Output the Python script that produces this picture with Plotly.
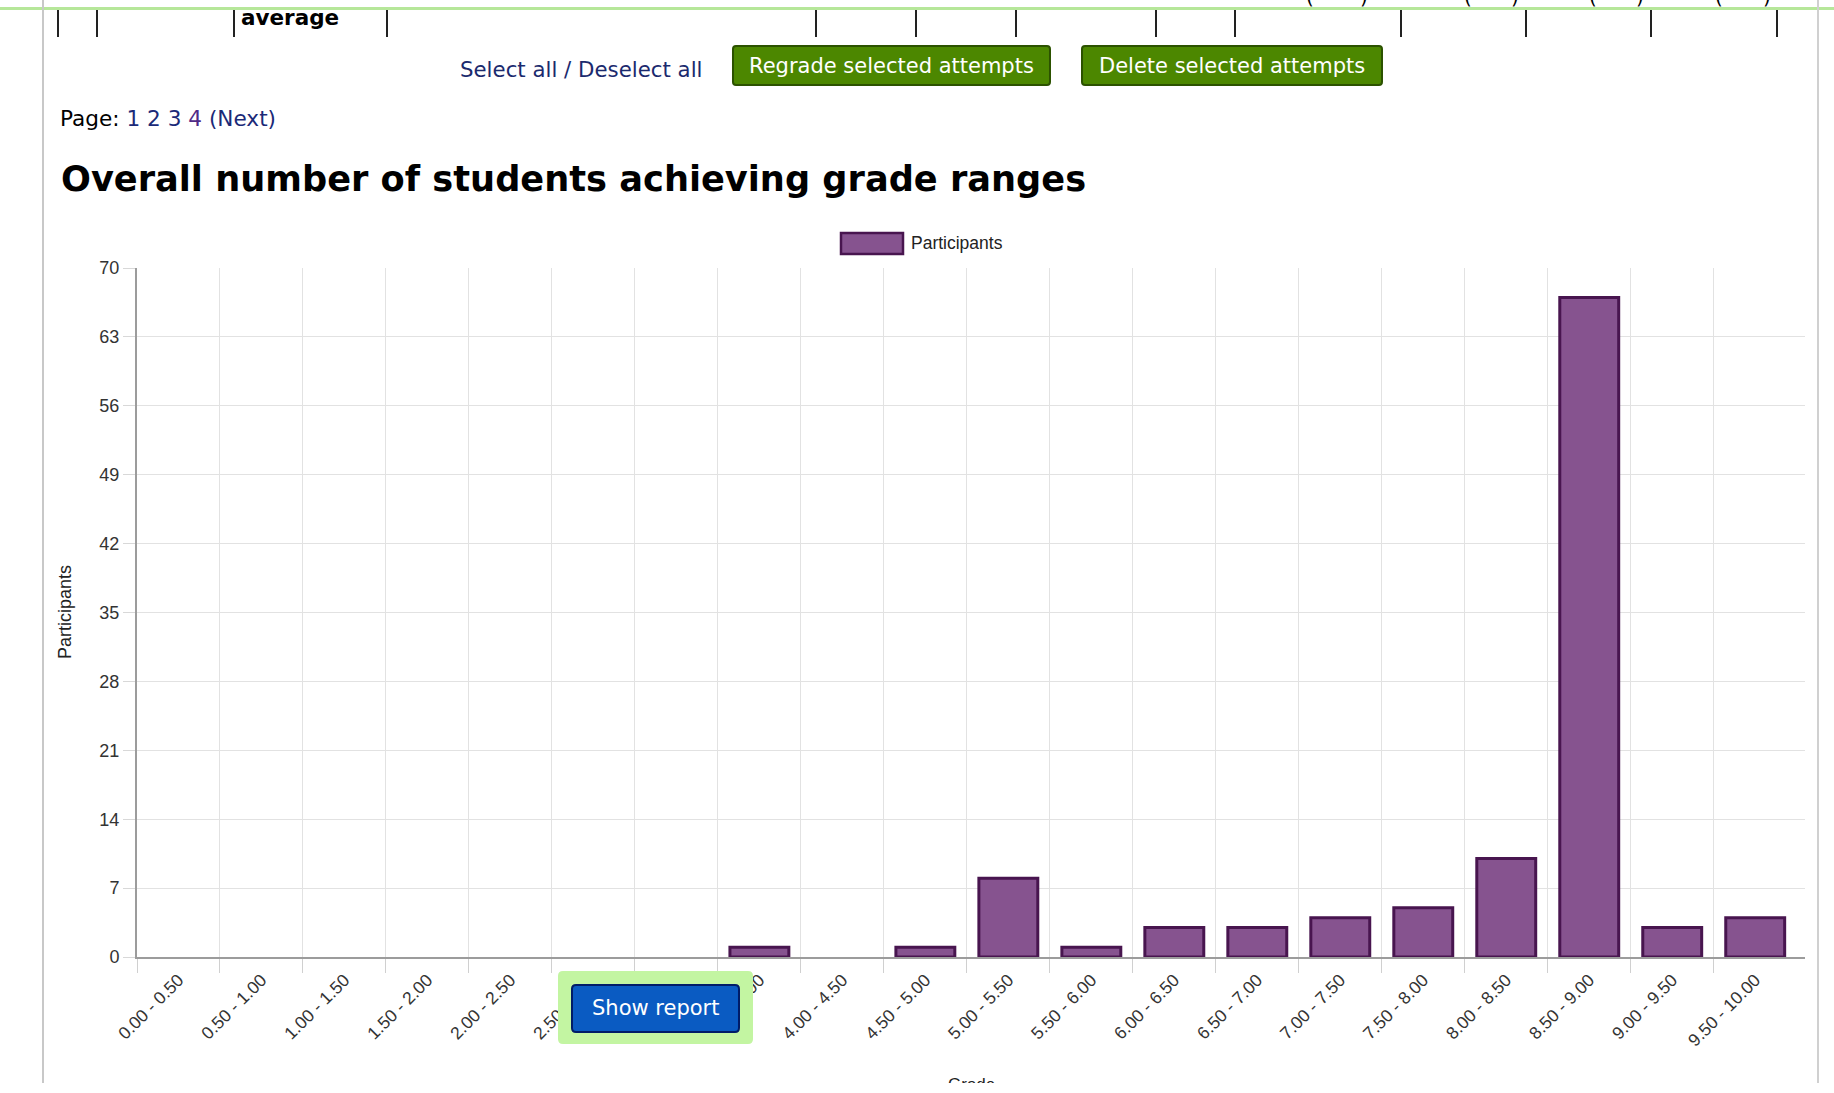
import plotly.graph_objects as go

# ---- data -------------------------------------------------------------
grade_ranges = [
    "0.00 - 0.50", "0.50 - 1.00", "1.00 - 1.50", "1.50 - 2.00", "2.00 - 2.50",
    "2.50 - 3.00", "3.00 - 3.50", "3.50 - 4.00", "4.00 - 4.50", "4.50 - 5.00",
    "5.00 - 5.50", "5.50 - 6.00", "6.00 - 6.50", "6.50 - 7.00", "7.00 - 7.50",
    "7.50 - 8.00", "8.00 - 8.50", "8.50 - 9.00", "9.00 - 9.50", "9.50 - 10.00",
]
participants = [0, 0, 0, 0, 0, 0, 0, 1, 0, 1, 8, 1, 3, 3, 4, 5, 10, 67, 3, 4]
y_ticks = [0, 7, 14, 21, 28, 35, 42, 49, 56, 63, 70]

# ---- page geometry (pixels) ------------------------------------------
W, H = 1834, 1083
PL, PR, PT, PB = 137, 1805, 268, 957          # plot area edges

def px(x):
    return (x - PL) / (PR - PL)

def py(y):
    return (PB - y) / (PB - PT)

def rrect(x0, y0, x1, y1, r):
    pts = [("M", x0 + r, y0), ("L", x1 - r, y0), ("Q", x1, y0), ("", x1, y0 + r),
           ("L", x1, y1 - r), ("Q", x1, y1), ("", x1 - r, y1), ("L", x0 + r, y1),
           ("Q", x0, y1), ("", x0, y1 - r), ("L", x0, y0 + r), ("Q", x0, y0),
           ("", x0 + r, y0)]
    return " ".join(f"{c}{px(a):.5f},{py(b):.5f}" if c else f"{px(a):.5f},{py(b):.5f}"
                    for c, a, b in pts) + " Z"

BAR_FILL = "#86538f"
BAR_EDGE = "#48154f"
PAGE_FONT = "DejaVu Sans"
CHART_FONT = "Liberation Sans, Arial, sans-serif"

fig = go.Figure()
fig.add_trace(go.Bar(
    x=list(range(len(grade_ranges))),
    y=participants,
    name="Participants",
    marker=dict(color=BAR_FILL,
                line=dict(color=BAR_EDGE,
                          width=[3 if v > 0 else 0 for v in participants])),
    showlegend=False,
))

shapes = []
annotations = []

def line(x0, y0, x1, y1, color, width):
    shapes.append(dict(type="line", xref="paper", yref="paper",
                       x0=px(x0), y0=py(y0), x1=px(x1), y1=py(y1),
                       line=dict(color=color, width=width)))

def rect(x0, y0, x1, y1, fill, edge, width):
    shapes.append(dict(type="rect", xref="paper", yref="paper",
                       x0=px(x0), y0=py(y0), x1=px(x1), y1=py(y1),
                       fillcolor=fill, line=dict(color=edge, width=width)))

def text(s, x, y, size, color="#000000", family=PAGE_FONT, xanchor="left",
         yanchor="middle", angle=0):
    annotations.append(dict(text=s, xref="paper", yref="paper", x=px(x), y=py(y),
                            xanchor=xanchor, yanchor=yanchor, showarrow=False,
                            textangle=angle,
                            font=dict(family=family, size=size, color=color)))

# page frame
line(0, 8.5, W, 8.5, "#b6e79a", 3)
line(43, 0, 43, 1083, "#c8c8c8", 2)
line(1818, 0, 1818, 1083, "#d0d0d0", 2)

# bottom edge of the attempts table above
for x in [58, 97, 234, 387, 816, 916, 1016, 1156, 1235, 1401, 1526, 1651, 1777]:
    line(x, 10, x, 37, "#222222", 2)
for x, ch in [(1310, "("), (1364, ")"), (1468, "("), (1515, ")"),
              (1593, "("), (1640, ")"), (1719, "("), (1767, ")")]:
    text(ch, x, 11, 20, xanchor="center", yanchor="bottom")
text("<b>average</b>", 239, 18, 21.5)

# selection controls
text("Select all / Deselect all", 458, 70, 21.3, color="#1b2a6e")
for (x0, x1, label) in [(733, 1050, "Regrade selected attempts"),
                        (1082, 1382, "Delete selected attempts")]:
    shapes.append(dict(type="path", xref="paper", yref="paper",
                       path=rrect(x0, 46, x1, 85, 3), fillcolor="#4c8700",
                       line=dict(color="#2c5200", width=2)))
    text(label, (x0 + x1) / 2, 66, 21, color="#ffffff", xanchor="center")

text("Page: <span style='color:#1b2a78'>1 2 3</span> "
     "<span style='color:#4f2a86'>4</span> "
     "<span style='color:#1b2a78'>(Next)</span>", 58, 118, 21.6)

text("<b>Overall number of students achieving grade ranges</b>", 59, 179, 35.2)

# legend
rect(841, 233, 903, 254, BAR_FILL, BAR_EDGE, 2.5)
text("Participants", 909, 243, 17.5, color="#222222", family=CHART_FONT)

# axis titles
text("Participants", 65, 612, 18, color="#222222", family=CHART_FONT,
     xanchor="center", angle=-90)
text("Grade", 971, 1073, 17, color="#222222", family=CHART_FONT,
     xanchor="center", yanchor="top")

# report button over the axis labels
shapes.append(dict(type="path", xref="paper", yref="paper",
                   path=rrect(558, 971, 753, 1044, 5), fillcolor="#c3f5a2",
                   line=dict(color="#c3f5a2", width=0)))
shapes.append(dict(type="path", xref="paper", yref="paper",
                   path=rrect(572, 985, 739, 1032, 4), fillcolor="#0a5bc2",
                   line=dict(color="#001c68", width=2)))
text("Show report", 655.5, 1008, 21, color="#ffffff", xanchor="center")

fig.update_layout(
    width=W, height=H,
    margin=dict(l=PL, r=W - PR, t=PT, b=H - PB, pad=0, autoexpand=False),
    paper_bgcolor="#ffffff", plot_bgcolor="#ffffff",
    bargap=0.29,
    showlegend=False,
    shapes=shapes,
    annotations=annotations,
    xaxis=dict(
        range=[-0.5, len(grade_ranges) - 0.4],
        tickmode="array",
        tickvals=list(range(len(grade_ranges))),
        ticktext=grade_ranges,
        tickangle=-45,
        ticks="",
        ticklabelstandoff=4,
        showgrid=False,
        zeroline=False,
        showline=True, linecolor="#9c9c9c", linewidth=2,
        tickfont=dict(family=CHART_FONT, size=17.5, color="#333333"),
        minor=dict(tickmode="array",
                   tickvals=[i - 0.5 for i in range(len(grade_ranges))],
                   showgrid=True, gridcolor="#e2e2e2", gridwidth=1,
                   ticks="outside", ticklen=14, tickcolor="#d0d0d0", tickwidth=1),
        automargin=False,
    ),
    yaxis=dict(
        range=[0, 70],
        tickmode="array", tickvals=y_ticks,
        showgrid=True, gridcolor="#e2e2e2", gridwidth=1,
        ticks="outside", ticklen=12, tickcolor="#d8d8d8",
        zeroline=False,
        showline=True, linecolor="#9c9c9c", linewidth=2,
        tickfont=dict(family=CHART_FONT, size=18, color="#333333"),
        automargin=False,
    ),
)

fig.write_html("out.html")
